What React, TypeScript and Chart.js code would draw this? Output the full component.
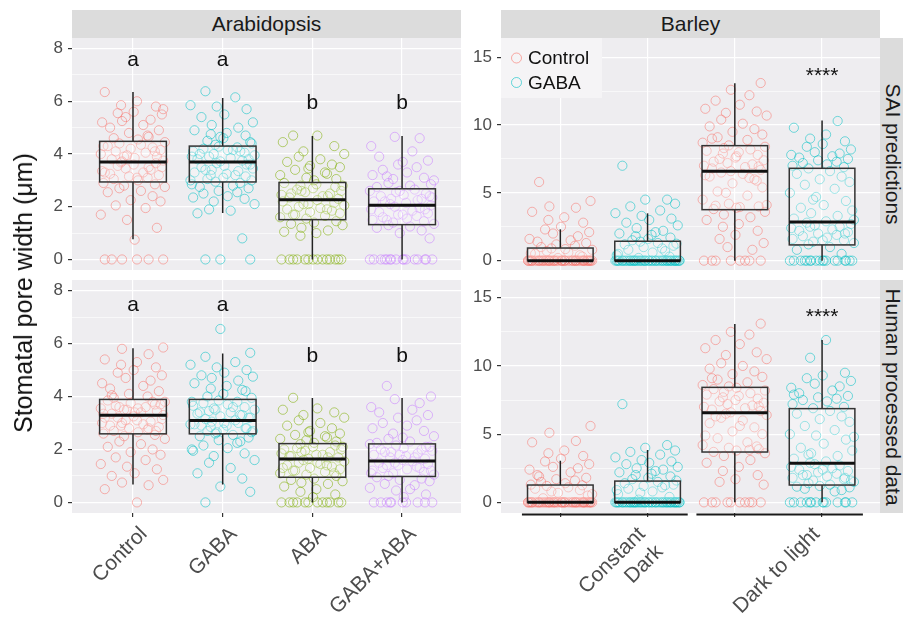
import React, { useEffect, useRef } from 'react';
import { Chart, registerables } from 'chart.js';

Chart.register(...registerables);

const FONT = '"Liberation Sans", Arial, Helvetica, sans-serif';
const PANEL_BG = '#eeedf0';
const STRIP_BG = '#dcdcdc';

// ---------- Arabidopsis ----------
const araCategories = ['Control', 'GABA', 'ABA', 'GABA+ABA'];
const araColors = ['#F8766D', '#00BFC4', '#7CAE00', '#C77CFF'];
const araYMajor = [0, 2, 4, 6, 8];
const araYMinor = [1, 3, 5, 7];
const araLetters = ['a', 'a', 'b', 'b'];
const araSaiLetterY = [7.55, 7.55, 5.92, 5.92];
const araHumanLetterY = [7.43, 7.43, 5.53, 5.53];

// SAI predictions
const araSaiControl = [0, 0, 0, 0, 0, 0, 0.75, 1.2, 1.5, 1.7, 1.95, 2.05, 2.2, 2.25, 2.4, 2.55, 2.6, 2.7, 2.75, 2.8, 2.85, 2.9,
  3.0, 3.05, 3.1, 3.15, 3.2, 3.25, 3.3, 3.35, 3.4, 3.45, 3.5, 3.55, 3.6, 3.65, 3.68, 3.1, 3.3, 3.5,
  3.72, 3.75, 3.8, 3.85, 3.9, 3.95, 4.0, 4.05, 4.1, 4.15, 4.2, 4.25, 4.3, 4.35, 4.4, 4.45, 3.9, 4.1, 4.3,
  4.55, 4.6, 4.7, 4.8, 4.9, 5.0, 5.1, 5.2, 5.3, 5.4, 5.5, 5.55, 5.6, 5.8, 5.85, 6.0, 6.35, 4.65, 5.25, 5.7];
const araSaiGaba = [0, 0, 0, 0.8, 1.75, 1.85, 1.9, 2.1, 2.2, 2.3, 2.35, 2.4, 2.5, 2.55, 2.6, 2.7, 2.75, 2.8, 2.85, 2.9,
  2.95, 3.0, 3.05, 3.1, 3.15, 3.2, 3.25, 3.3, 3.35, 3.4, 3.45, 3.5, 3.55, 3.6, 3.65, 3.0, 3.2, 3.4, 3.6,
  3.72, 3.75, 3.8, 3.85, 3.9, 3.95, 4.0, 4.05, 4.1, 4.15, 4.2, 4.25, 4.28, 3.8, 4.0, 4.15, 3.9, 4.1,
  4.35, 4.4, 4.5, 4.6, 4.7, 4.75, 4.8, 4.9, 5.0, 5.1, 5.2, 5.4, 5.5, 5.7, 5.8, 5.85, 6.15, 6.38, 4.45, 4.65];
const araSaiAba = [0, 0, 0, 0, 0, 0, 0, 0, 0, 0, 0, 0, 0, 0, 0.9, 1.0, 1.05, 1.1, 1.2, 1.3, 1.35, 1.4, 1.45,
  1.55, 1.6, 1.65, 1.7, 1.75, 1.8, 1.85, 1.9, 1.95, 2.0, 2.05, 2.1, 2.15, 2.2, 2.25, 1.7, 1.9, 2.1,
  2.3, 2.35, 2.4, 2.45, 2.5, 2.55, 2.6, 2.65, 2.7, 2.75, 2.8, 2.85, 2.9, 2.4, 2.6, 2.8, 2.5,
  3.0, 3.05, 3.1, 3.2, 3.3, 3.4, 3.5, 3.55, 3.6, 3.7, 3.8, 3.9, 4.0, 4.1, 4.3, 4.45, 4.7, 4.7, 3.25, 3.45];
const araSaiGabaAba = [0, 0, 0, 0, 0, 0, 0, 0, 0, 0, 0, 0, 0, 0, 0, 0, 0.8, 1.0, 1.1, 1.2, 1.25, 1.3,
  1.35, 1.4, 1.45, 1.5, 1.55, 1.6, 1.65, 1.7, 1.75, 1.8, 1.85, 1.9, 1.95, 2.0, 2.05, 1.5, 1.7, 1.9,
  2.1, 2.15, 2.2, 2.25, 2.3, 2.35, 2.4, 2.45, 2.5, 2.55, 2.6, 2.65, 2.2, 2.4, 2.6, 2.3,
  2.75, 2.8, 2.9, 3.0, 3.05, 3.1, 3.2, 3.3, 3.4, 3.5, 3.6, 3.75, 3.9, 4.1, 4.3, 4.6, 4.65, 2.85, 3.15, 3.7];
// box stats: [lower whisker, Q1, median, Q3, upper whisker]
const araSaiBoxes = [
  [0.77, 2.94, 3.70, 4.48, 6.35],
  [1.76, 2.94, 3.70, 4.30, 6.12],
  [0, 1.51, 2.26, 2.92, 4.68],
  [0, 1.32, 2.06, 2.68, 4.68],
];

// Human processed data
const araHumanControl = [0, 0.5, 0.65, 0.75, 0.85, 1.0, 1.1, 1.25, 1.35, 1.45, 1.6, 1.7, 1.8, 1.9, 2.0, 2.1, 2.2, 2.3, 2.4, 2.5, 2.55,
  2.6, 2.65, 2.7, 2.75, 2.8, 2.85, 2.9, 2.95, 3.0, 3.05, 3.1, 3.15, 3.2, 3.25, 2.7, 2.9, 3.1, 3.2, 2.8, 3.0,
  3.3, 3.35, 3.4, 3.45, 3.5, 3.55, 3.6, 3.65, 3.7, 3.75, 3.8, 3.85, 3.4, 3.6, 3.8, 3.5, 3.7, 3.35, 3.55,
  3.95, 4.0, 4.1, 4.2, 4.3, 4.4, 4.5, 4.6, 4.7, 4.8, 4.9, 5.0, 5.1, 5.2, 5.3, 5.4, 5.6, 5.8, 5.85, 4.05];
const araHumanGaba = [0, 0.4, 0.6, 0.9, 1.1, 1.3, 1.5, 1.6, 1.75, 1.85, 1.95, 2.05, 2.15, 2.25, 2.35, 2.45, 2.5, 2.55, 2.0, 2.3,
  2.6, 2.65, 2.7, 2.75, 2.8, 2.85, 2.9, 2.95, 3.0, 3.05, 2.7, 2.9, 3.0, 2.8, 2.65, 2.95,
  3.1, 3.15, 3.2, 3.25, 3.3, 3.35, 3.4, 3.45, 3.5, 3.55, 3.6, 3.65, 3.7, 3.75, 3.8, 3.85, 3.2, 3.4, 3.6, 3.8, 3.3, 3.5,
  3.95, 4.0, 4.1, 4.2, 4.3, 4.4, 4.5, 4.6, 4.7, 4.75, 4.8, 4.9, 5.0, 5.1, 5.2, 5.3, 5.5, 5.65, 6.55, 4.25];
const araHumanAba = [0, 0, 0, 0, 0, 0, 0, 0, 0, 0, 0, 0, 0.2, 0.3, 0.4, 0.5, 0.6, 0.7, 0.75, 0.8, 0.85, 0.9,
  1.0, 1.05, 1.1, 1.15, 1.2, 1.25, 1.3, 1.35, 1.4, 1.45, 1.5, 1.55, 1.6, 1.1, 1.3, 1.5, 1.2, 1.4,
  1.65, 1.7, 1.75, 1.8, 1.85, 1.9, 1.95, 2.0, 2.05, 2.1, 2.15, 2.2, 1.8, 2.0, 1.7, 1.9, 2.1, 1.75,
  2.25, 2.3, 2.35, 2.4, 2.5, 2.55, 2.6, 2.7, 2.8, 2.9, 3.0, 3.1, 3.2, 3.3, 3.4, 3.5, 3.55, 3.95, 2.45, 2.65];
const araHumanGabaAba = [0, 0, 0, 0, 0, 0, 0, 0, 0, 0, 0.2, 0.3, 0.45, 0.55, 0.65, 0.7, 0.8, 0.85, 0.9, 0.95, 0.5,
  1.0, 1.05, 1.1, 1.15, 1.2, 1.25, 1.3, 1.35, 1.4, 1.45, 1.5, 1.55, 1.1, 1.3, 1.5, 1.2, 1.4,
  1.6, 1.65, 1.7, 1.75, 1.8, 1.85, 1.9, 1.95, 2.0, 2.05, 2.1, 2.15, 2.2, 1.7, 1.9, 2.1, 1.8, 2.0,
  2.25, 2.3, 2.4, 2.5, 2.6, 2.7, 2.8, 2.9, 3.0, 3.1, 3.2, 3.3, 3.4, 3.5, 3.6, 3.75, 3.9, 4.0, 4.4, 2.45];
const araHumanBoxes = [
  [0.68, 2.59, 3.29, 3.89, 5.82],
  [0.68, 2.59, 3.09, 3.89, 5.62],
  [0, 0.95, 1.64, 2.22, 3.94],
  [0, 0.98, 1.56, 2.21, 3.94],
];

// ---------- Barley ----------
const barleyConditions = [['Constant', 'Dark'], ['Dark to light']];
const barleyTreatments = ['Control', 'GABA'];
const barleyColors = ['#F8766D', '#00BFC4'];
const barleyYMajor = [0, 5, 10, 15];
const barleyYMinor = [2.5, 7.5, 12.5];
const barleySignif = '****';
const barleySaiSignifY = 13.57;
const barleyHumanSignifY = 13.56;

// SAI predictions: Constant Dark
const barSaiCdControl = [0, 0, 0, 0, 0, 0, 0, 0, 0, 0, 0, 0, 0, 0, 0, 0, 0, 0, 0, 0, 0, 0, 0, 0, 0,
  0, 0, 0, 0, 0, 0, 0, 0, 0, 0, 0, 0, 0, 0, 0, 0, 0, 0, 0, 0, 0, 0, 0, 0, 0,
  0.2, 0.4, 0.5, 0.6, 0.7, 0.8, 0.9, 0.3, 0.55, 0.85,
  1.0, 1.1, 1.2, 1.3, 1.4, 1.5, 1.6, 1.8, 2.0, 2.1, 2.3, 2.5, 2.8, 3.0, 3.2, 3.6, 3.9, 4.0, 4.4, 5.8];
const barSaiCdGaba = [0, 0, 0, 0, 0, 0, 0, 0, 0, 0, 0, 0, 0, 0, 0, 0, 0, 0, 0, 0, 0, 0, 0, 0, 0,
  0, 0, 0, 0, 0, 0, 0, 0, 0, 0, 0, 0, 0, 0, 0, 0, 0, 0, 0, 0,
  0.2, 0.3, 0.5, 0.6, 0.8, 0.9, 1.0, 1.1, 1.2, 1.3, 0.4, 0.7, 1.4, 1.25,
  1.5, 1.6, 1.7, 1.8, 1.9, 2.0, 2.2, 2.4, 2.6, 2.8, 3.0, 3.1, 3.3, 3.5, 3.7, 4.0, 4.2, 4.5, 4.5, 7.0, 2.1];
// SAI predictions: Dark to light
const barSaiDlControl = [0, 0, 0, 0, 0, 0, 0, 0, 0.8, 1.0, 1.3, 1.6, 1.9, 2.2, 2.5, 2.7, 3.0, 3.2, 3.4, 3.6,
  3.8, 3.9, 4.0, 4.2, 4.5, 4.8, 5.1, 5.4, 5.7, 6.0, 6.2, 6.4, 6.5, 4.1, 5.0, 5.9, 6.3, 3.95, 4.05, 6.1,
  6.6, 6.7, 6.8, 6.9, 7.0, 7.1, 7.2, 7.4, 7.5, 7.6, 7.8, 7.9, 8.0, 8.1, 8.2, 8.3, 8.4, 7.3, 7.7, 6.95,
  8.5, 8.7, 8.9, 9.1, 9.3, 9.5, 9.7, 9.9, 10.1, 10.4, 10.7, 10.9, 11.0, 11.2, 11.5, 11.8, 12.2, 12.6, 13.1, 9.0];
const barSaiDlGaba = [0, 0, 0, 0, 0, 0, 0, 0, 0, 0, 0, 0, 0, 0, 0, 0, 0, 0, 0.5, 0.8, 1.0,
  1.2, 1.3, 1.4, 1.5, 1.6, 1.7, 1.8, 1.9, 2.0, 2.1, 2.2, 2.3, 2.4, 2.5, 2.6, 2.7, 2.8, 1.5, 2.0, 2.5,
  2.9, 3.1, 3.3, 3.5, 3.7, 3.9, 4.1, 4.4, 4.7, 5.0, 5.3, 5.6, 5.8, 6.0, 6.2, 6.4, 6.6, 6.8, 3.0, 4.5,
  6.9, 7.0, 7.1, 7.2, 7.3, 7.4, 7.5, 7.6, 7.7, 7.8, 7.9, 8.0, 8.2, 8.4, 8.6, 8.8, 9.0, 9.3, 9.8, 10.3];
const barSaiBoxes = [
  [0, 0, 0, 0.93, 2.31],
  [0, 0, 0, 1.43, 3.49],
  [0, 3.76, 6.59, 8.48, 13.08],
  [0, 1.16, 2.85, 6.81, 10.33],
];

// Human processed data
const barHumanCdControl = [0, 0, 0, 0, 0, 0, 0, 0, 0, 0, 0, 0, 0, 0, 0, 0, 0, 0, 0, 0, 0, 0, 0, 0,
  0, 0, 0, 0, 0, 0, 0, 0, 0, 0, 0, 0, 0, 0, 0, 0, 0, 0, 0, 0, 0, 0, 0, 0,
  0.3, 0.5, 0.7, 0.9, 1.0, 1.1, 1.2, 0.6, 0.8, 1.25,
  1.3, 1.4, 1.5, 1.6, 1.7, 1.8, 2.0, 2.2, 2.4, 2.5, 2.6, 2.8, 3.0, 3.2, 3.4, 3.6, 3.8, 4.4, 4.5, 5.1, 5.6, 1.9];
const barHumanCdGaba = [0, 0, 0, 0, 0, 0, 0, 0, 0, 0, 0, 0, 0, 0, 0, 0, 0, 0, 0, 0, 0, 0, 0,
  0, 0, 0, 0, 0, 0, 0, 0, 0, 0, 0, 0, 0, 0, 0, 0, 0, 0, 0, 0, 0, 0,
  0.2, 0.4, 0.6, 0.8, 1.0, 1.1, 1.2, 1.3, 1.4, 1.5, 0.9, 1.25, 0.7,
  1.6, 1.7, 1.8, 1.9, 2.0, 2.1, 2.2, 2.4, 2.5, 2.6, 2.8, 2.9, 3.0, 3.1, 3.3, 3.5, 3.7, 3.8, 4.0, 4.2, 7.2, 2.3];
const barHumanDlControl = [0, 0, 0, 0, 0, 0, 0, 0, 0, 0, 1.3, 1.5, 1.7, 2.0, 2.3, 2.6, 2.9, 3.1, 3.4, 3.6,
  3.7, 3.8, 3.9, 4.0, 4.2, 4.4, 4.7, 5.0, 5.2, 5.5, 5.8, 6.0, 6.2, 6.4, 6.5, 4.1, 4.9, 5.6, 6.3, 3.85,
  6.6, 6.7, 6.8, 6.9, 7.0, 7.1, 7.2, 7.3, 7.4, 7.5, 7.6, 7.7, 7.8, 7.9, 8.0, 8.1, 8.2, 8.3, 8.4, 7.05,
  8.5, 8.6, 8.8, 9.0, 9.2, 9.4, 9.6, 9.8, 10.0, 10.2, 10.5, 10.8, 11.0, 11.3, 11.6, 11.9, 12.3, 12.5, 13.1, 9.1];
const barHumanDlGaba = [0, 0, 0, 0, 0, 0, 0, 0, 0, 0, 0, 0, 0, 0, 0.8, 1.0, 1.1, 1.2, 0.9, 1.15,
  1.3, 1.4, 1.5, 1.6, 1.7, 1.8, 1.9, 2.0, 2.1, 2.2, 2.3, 2.4, 2.5, 2.6, 2.7, 2.8, 1.6, 2.0, 2.4, 1.8,
  2.9, 3.0, 3.2, 3.4, 3.6, 3.8, 4.0, 4.3, 4.6, 4.9, 5.0, 5.3, 5.6, 5.9, 6.1, 6.3, 6.5, 6.7, 3.5, 4.8,
  6.9, 7.0, 7.2, 7.4, 7.5, 7.6, 7.7, 7.8, 8.0, 8.2, 8.4, 8.5, 8.7, 8.9, 9.1, 9.3, 9.5, 10.6, 11.9, 7.9];
const barHumanBoxes = [
  [0, 0, 0, 1.27, 3.05],
  [0, 0, 0, 1.56, 3.84],
  [0, 3.69, 6.57, 8.43, 13.07],
  [0, 1.27, 2.86, 6.87, 11.9],
];

// fixed jitter pattern (fraction of jitter half-width)
const JITTER = [0.12, -0.85, 0.47, -0.33, 0.91, -0.64, 0.05, 0.72, -0.18, -0.97, 0.38, -0.52, 0.83, -0.07, 0.59, -0.76,
  0.24, -0.41, 0.96, -0.27, 0.66, -0.89, 0.15, -0.58, 0.44, -0.12, 0.78, -0.69, 0.31, -0.93, 0.53, -0.22, 0.87,
  -0.46, 0.02, 0.69, -0.36];

type Group = { x: number; color: string; values: number[]; box: number[] };
type Txt = { x: number; y: number; text: string; size: number };
type Spec = {
  left: number; top: number; width: number; height: number;
  yAxisWidth: number; xAxisHeight: number;
  xMin: number; xMax: number; yMin: number; yMax: number;
  yMajor: number[]; yMinor: number[];
  xGrid: number[]; xLabels: { v: number; label: string | string[] }[]; showX: boolean; labelShift: number;
  groups: Group[]; halfBox: number; jitterHalf: number;
  texts: Txt[]; legend?: boolean; segments?: number[][];
};

function hexA(hex: string, a: number) {
  const n = parseInt(hex.slice(1), 16);
  return `rgba(${(n >> 16) & 255},${(n >> 8) & 255},${n & 255},${a})`;
}
const near = (a: number, b: number) => Math.abs(a - b) < 1e-6;

function PanelChart({ spec }: { spec: Spec }) {
  const ref = useRef<HTMLCanvasElement>(null);
  useEffect(() => {
    const canvas = ref.current!;
    const datasets = spec.groups.map((g, gi) => ({
      type: 'scatter' as const,
      data: g.values.map((v, i) => ({ x: g.x + JITTER[(i + gi * 11) % JITTER.length] * spec.jitterHalf, y: v })),
      pointRadius: 4.6,
      pointHoverRadius: 4.6,
      pointBorderWidth: 0.9,
      pointBorderColor: hexA(g.color, 0.6),
      pointBackgroundColor: 'rgba(0,0,0,0)',
      showLine: false,
    }));
    const xTickVals = [...spec.xGrid, ...spec.xLabels.map((l) => l.v).filter((v) => !spec.xGrid.some((g) => near(g, v)))];
    const yTickVals = [...spec.yMajor, ...spec.yMinor];
    const isMajorY = (v: number) => spec.yMajor.some((m) => near(m, v));
    const isGridX = (v: number) => spec.xGrid.some((m) => near(m, v));

    const decor = {
      id: 'decor',
      beforeDraw(chart: any) {
        const { ctx, chartArea: a } = chart;
        ctx.save();
        ctx.fillStyle = PANEL_BG;
        ctx.fillRect(a.left, a.top, a.right - a.left, a.bottom - a.top);
        ctx.restore();
      },
      afterDatasetsDraw(chart: any) {
        const { ctx } = chart;
        const xs = chart.scales.x;
        const ys = chart.scales.y;
        ctx.save();
        spec.groups.forEach((g) => {
          const [lo, q1, med, q3, hi] = g.box;
          const cx = xs.getPixelForValue(g.x);
          const x0 = xs.getPixelForValue(g.x - spec.halfBox);
          const x1 = xs.getPixelForValue(g.x + spec.halfBox);
          const pLo = ys.getPixelForValue(lo);
          const pQ1 = ys.getPixelForValue(q1);
          const pMed = ys.getPixelForValue(med);
          const pQ3 = ys.getPixelForValue(q3);
          const pHi = ys.getPixelForValue(hi);
          ctx.strokeStyle = '#222';
          ctx.lineWidth = 1.5;
          ctx.beginPath();
          ctx.moveTo(cx, pHi); ctx.lineTo(cx, pQ3);
          ctx.moveTo(cx, pQ1); ctx.lineTo(cx, pLo);
          ctx.stroke();
          ctx.fillStyle = 'rgba(255,255,255,0.3)';
          ctx.fillRect(x0, pQ3, x1 - x0, pQ1 - pQ3);
          ctx.strokeStyle = '#333';
          ctx.lineWidth = 1.5;
          ctx.strokeRect(x0, pQ3, x1 - x0, pQ1 - pQ3);
          ctx.strokeStyle = '#111';
          ctx.lineWidth = 3;
          ctx.beginPath();
          ctx.moveTo(x0, pMed); ctx.lineTo(x1, pMed);
          ctx.stroke();
        });
        ctx.restore();
      },
      afterDraw(chart: any) {
        const { ctx, chartArea: a } = chart;
        const xs = chart.scales.x;
        const ys = chart.scales.y;
        ctx.save();
        ctx.fillStyle = '#111';
        ctx.textAlign = 'center';
        ctx.textBaseline = 'middle';
        spec.texts.forEach((t) => {
          ctx.font = `${t.size}px ${FONT}`;
          ctx.fillText(t.text, xs.getPixelForValue(t.x), ys.getPixelForValue(t.y));
        });
        if (spec.segments) {
          ctx.strokeStyle = '#1a1a1a';
          ctx.lineWidth = 2;
          spec.segments.forEach(([s, e]) => {
            ctx.beginPath();
            ctx.moveTo(xs.getPixelForValue(s), a.bottom + 1.5);
            ctx.lineTo(xs.getPixelForValue(e), a.bottom + 1.5);
            ctx.stroke();
          });
        }
        if (spec.legend) {
          ctx.fillStyle = '#f5f4f6';
          ctx.fillRect(a.left, a.top, 101, 60);
          ctx.font = `19px ${FONT}`;
          ctx.textAlign = 'left';
          barleyTreatments.forEach((name, i) => {
            const cy = a.top + 20 + i * 24.5;
            ctx.strokeStyle = hexA(barleyColors[i], 0.6);
            ctx.lineWidth = 1;
            ctx.beginPath();
            ctx.arc(a.left + 15.5, cy, 5, 0, Math.PI * 2);
            ctx.stroke();
            ctx.fillStyle = '#111';
            ctx.fillText(name, a.left + 27, cy + 1);
          });
        }
        ctx.restore();
      },
    };

    const chart = new Chart(canvas, {
      type: 'scatter',
      data: { datasets: datasets as any },
      options: {
        animation: false,
        responsive: false,
        maintainAspectRatio: false,
        devicePixelRatio: 1,
        events: [],
        layout: { padding: 0, autoPadding: false } as any,
        plugins: { legend: { display: false }, tooltip: { enabled: false } },
        scales: {
          x: {
            type: 'linear',
            min: spec.xMin,
            max: spec.xMax,
            bounds: 'data',
            afterBuildTicks: (s: any) => { s.ticks = xTickVals.map((v) => ({ value: v })); },
            afterFit: (s: any) => { s.height = spec.xAxisHeight; s.paddingLeft = 0; s.paddingRight = 0; },
            ticks: {
              display: spec.showX,
              autoSkip: false,
              minRotation: 45,
              maxRotation: 45,
              padding: 5,
              labelOffset: spec.labelShift,
              color: '#4d4d4d',
              font: { family: FONT, size: 21 },
              callback: (v: any) => {
                const l = spec.xLabels.find((q) => near(q.v, Number(v)));
                return l ? l.label : '';
              },
            },
            grid: {
              drawTicks: spec.showX,
              tickLength: 4,
              lineWidth: 1.2,
              color: (c: any) => (isGridX(c.tick.value) ? '#ffffff' : 'rgba(0,0,0,0)'),
              tickColor: (c: any) => (isGridX(c.tick.value) ? '#333333' : 'rgba(0,0,0,0)'),
            },
            border: { display: false },
          } as any,
          y: {
            type: 'linear',
            min: spec.yMin,
            max: spec.yMax,
            bounds: 'data',
            afterBuildTicks: (s: any) => { s.ticks = yTickVals.map((v) => ({ value: v })); },
            afterFit: (s: any) => { s.width = spec.yAxisWidth; s.paddingTop = 0; s.paddingBottom = 0; },
            ticks: {
              padding: 5,
              color: '#4d4d4d',
              font: { family: FONT, size: 17 },
              callback: (v: any) => (isMajorY(Number(v)) ? String(v) : ''),
            },
            grid: {
              drawTicks: true,
              tickLength: 4,
              lineWidth: (c: any) => (isMajorY(c.tick.value) ? 1.2 : 0.6),
              color: '#ffffff',
              tickColor: (c: any) => (isMajorY(c.tick.value) ? '#333333' : 'rgba(0,0,0,0)'),
            },
            border: { display: false },
          } as any,
        },
      },
      plugins: [decor as any],
    });
    return () => chart.destroy();
  }, [spec]);
  return (
    <canvas
      ref={ref}
      width={spec.width}
      height={spec.height}
      style={{ position: 'absolute', left: spec.left, top: spec.top, width: spec.width, height: spec.height }}
    />
  );
}

const araGroups = (vals: number[][], boxes: number[][]): Group[] =>
  vals.map((v, i) => ({ x: i + 1, color: araColors[i], values: v, box: boxes[i] }));
const barGroups = (vals: number[][], boxes: number[][]): Group[] =>
  vals.map((v, i) => ({
    x: Math.floor(i / 2) + 1 + (i % 2 === 0 ? -0.25 : 0.25),
    color: barleyColors[i % 2],
    values: v,
    box: boxes[i],
  }));

const araX = { xMin: 0.32, xMax: 4.657, xGrid: [1, 2, 3, 4] };
const barX = { xMin: 0.41, xMax: 2.582, xGrid: [0.75, 1.25, 1.75, 2.25] };

const specs: Spec[] = [
  {
    left: 0, top: 38, width: 461, height: 232, yAxisWidth: 72, xAxisHeight: 0,
    ...araX, yMin: -0.4, yMax: 8.4, yMajor: araYMajor, yMinor: araYMinor,
    xLabels: [], showX: false, labelShift: 0,
    groups: araGroups([araSaiControl, araSaiGaba, araSaiAba, araSaiGabaAba], araSaiBoxes),
    halfBox: 0.372, jitterHalf: 0.37,
    texts: araLetters.map((t, i) => ({ x: i + 1, y: araSaiLetterY[i], text: t, size: 21 })),
  },
  {
    left: 0, top: 280, width: 461, height: 340, yAxisWidth: 72, xAxisHeight: 107,
    ...araX, yMin: -0.4, yMax: 8.4, yMajor: araYMajor, yMinor: araYMinor,
    xLabels: araCategories.map((c, i) => ({ v: i + 1, label: c })), showX: true, labelShift: 11,
    groups: araGroups([araHumanControl, araHumanGaba, araHumanAba, araHumanGabaAba], araHumanBoxes),
    halfBox: 0.372, jitterHalf: 0.37,
    texts: araLetters.map((t, i) => ({ x: i + 1, y: araHumanLetterY[i], text: t, size: 21 })),
  },
  {
    left: 461, top: 38, width: 419, height: 232, yAxisWidth: 40, xAxisHeight: 0,
    ...barX, yMin: -0.69, yMax: 16.42, yMajor: barleyYMajor, yMinor: barleyYMinor,
    xLabels: [], showX: false, labelShift: 0,
    groups: barGroups([barSaiCdControl, barSaiCdGaba, barSaiDlControl, barSaiDlGaba], barSaiBoxes),
    halfBox: 0.188, jitterHalf: 0.19,
    texts: [{ x: 2.25, y: barleySaiSignifY, text: barleySignif, size: 21 }],
    legend: true,
  },
  {
    left: 461, top: 280, width: 419, height: 340, yAxisWidth: 40, xAxisHeight: 107,
    ...barX, yMin: -0.78, yMax: 16.3, yMajor: barleyYMajor, yMinor: barleyYMinor,
    xLabels: barleyConditions.map((c, i) => ({ v: i + 1, label: c.length > 1 ? c : c[0] })), showX: true, labelShift: 38,
    groups: barGroups([barHumanCdControl, barHumanCdGaba, barHumanDlControl, barHumanDlGaba], barHumanBoxes),
    halfBox: 0.188, jitterHalf: 0.19,
    texts: [{ x: 2.25, y: barleyHumanSignifY, text: barleySignif, size: 21 }],
    segments: [[0.53, 1.48], [1.53, 2.484]],
  },
];

const stripStyle: React.CSSProperties = {
  position: 'absolute',
  background: STRIP_BG,
  color: '#1a1a1a',
  fontFamily: FONT,
  fontSize: 21,
  overflow: 'hidden',
};

function VStrip({ top, height, text }: { top: number; height: number; text: string }) {
  return (
    <div style={{ ...stripStyle, left: 880, top, width: 26, height }}>
      <div
        style={{
          position: 'absolute', left: '50%', top: '50%', whiteSpace: 'nowrap',
          transform: 'translate(-50%, -50%) rotate(90deg)', lineHeight: '24px',
        }}
      >
        {text}
      </div>
    </div>
  );
}

export default function App() {
  return (
    <div style={{ position: 'fixed', left: 0, top: 0, width: 903, height: 620, background: '#fff', overflow: 'hidden' }}>
      {specs.map((s, i) => (
        <PanelChart key={i} spec={s} />
      ))}
      <div style={{ ...stripStyle, left: 72, top: 10, width: 389, height: 28, lineHeight: '28px', textAlign: 'center' }}>
        Arabidopsis
      </div>
      <div style={{ ...stripStyle, left: 501, top: 10, width: 379, height: 28, lineHeight: '28px', textAlign: 'center' }}>
        Barley
      </div>
      <VStrip top={38} height={232} text="SAI predictions" />
      <VStrip top={280} height={233} text="Human processed data" />
      <div
        style={{
          position: 'absolute', left: 23, top: 293, whiteSpace: 'nowrap', fontFamily: FONT, fontSize: 25,
          lineHeight: '30px', color: '#111', transform: 'translate(-50%, -50%) rotate(-90deg)',
        }}
      >
        Stomatal pore width (μm)
      </div>
    </div>
  );
}
